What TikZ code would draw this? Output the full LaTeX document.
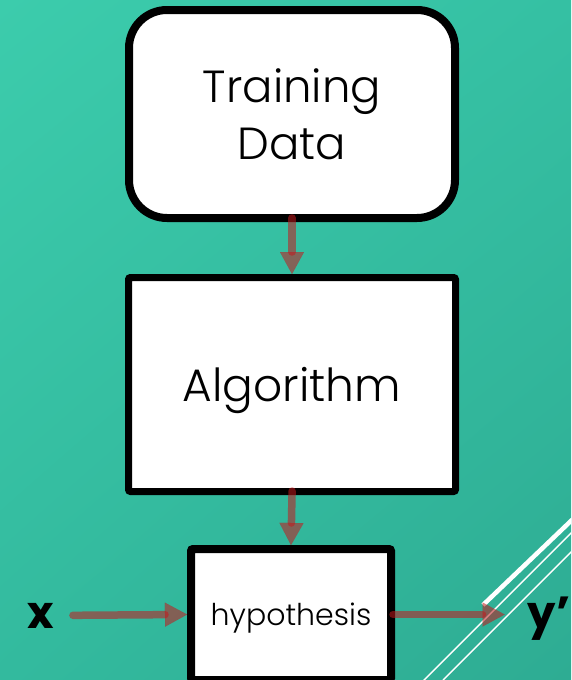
\documentclass[tikz,border=0pt]{standalone}
\usepackage{fontspec}
\setmainfont{Poppins Light}[BoldFont=Poppins Bold]
\usetikzlibrary{arrows.meta,shadings}
\definecolor{bgA}{RGB}{60,204,172}
\definecolor{bgB}{RGB}{53,192,163}
\definecolor{bgC}{RGB}{51,186,158}
\definecolor{bgD}{RGB}{46,172,147}
\definecolor{flow}{RGB}{196,24,28}
\tikzset{
  box/.style={draw=black, fill=white, inner sep=0pt, align=center},
  flowarrow/.style={draw=flow, draw opacity=0.55, fill opacity=0.55, line width=7.5pt,
    line cap=round, -{Triangle[length=22pt, width=24pt, line width=0.01pt, round=false, fill=flow]}},
  deco/.style={draw=white, line cap=butt},
  lbl/.style={inner sep=0pt, font=\bfseries\fontsize{45}{45}\selectfont}
}
\begin{document}
\begin{tikzpicture}[x=1pt, y=-1pt]
\useasboundingbox (0,0) rectangle (571,680);
\clip (0,0) rectangle (571,680);
% background
\shade[upper left=bgA, upper right=bgB, lower left=bgC, lower right=bgD] (0,0) rectangle (571,680);
% decorative white strokes, lower right corner
\draw[deco, line width=4.5pt] (585,507.5) -- (483,605);
\draw[deco, line width=1.4pt] (585,519) -- (423,681);
\draw[deco, line width=1.4pt] (585,538) -- (443,680);
% boxes
\node[box, line width=8pt, rounded corners=38pt, minimum width=326pt, minimum height=208pt,
  font=\fontsize{45}{57}\selectfont] (td) at (292,114) {Training\\Data};
\node[box, line width=7pt, rounded corners=2pt, minimum width=327pt, minimum height=214pt,
  text depth=0pt, font=\fontsize{45.5}{46}\selectfont] (alg) at (292,384.5) {Algorithm};
\node[box, line width=8pt, rounded corners=2pt, minimum width=200pt, minimum height=131pt,
  text depth=0pt, font=\fontsize{30}{30}\selectfont] (hyp) at (291,614.5) {hypothesis};
% input and output labels
\node[lbl, anchor=base] (xl) at (40.5,628) {x};
\node[lbl, anchor=base east] (yl) at (570.5,628) {y’};
% connectors
\draw[flowarrow, shorten <=-4pt] (td.south) -- (alg.north);
\draw[flowarrow, shorten <=-4pt] (alg.south) -- (hyp.north);
\draw[flowarrow, shorten <=19pt] (xl.east) -- (hyp.west);
\draw[flowarrow, shorten <=-2pt, shorten >=23pt] (hyp.east) -- (hyp.east -| yl.west);
\end{tikzpicture}
\end{document}
